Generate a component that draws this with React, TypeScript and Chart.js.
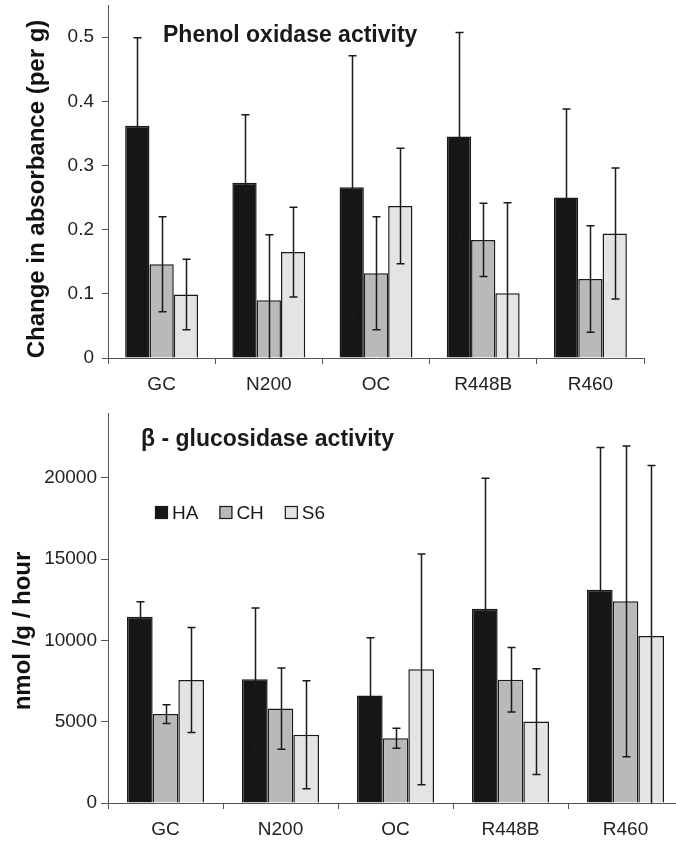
import React, { useEffect, useRef } from 'react';
import { Chart, registerables } from 'chart.js';

Chart.register(...registerables);

const categories = ['GC', 'N200', 'OC', 'R448B', 'R460'];
const seriesNames = ['HA', 'CH', 'S6'];
const seriesColors = ['#161616', '#b9b9b9', '#e4e4e4'];

const phenolHA = [0.362, 0.273, 0.266, 0.345, 0.25];
const phenolCH = [0.146, 0.09, 0.132, 0.184, 0.123];
const phenolS6 = [0.099, 0.165, 0.237, 0.101, 0.194];
const phenolErrHA = [0.137, 0.106, 0.205, 0.162, 0.138];
const phenolErrCH = [0.074, 0.102, 0.088, 0.057, 0.083];
const phenolErrS6 = [0.055, 0.07, 0.09, 0.141, 0.102];
const phenolTicks = [0, 0.1, 0.2, 0.3, 0.4, 0.5];

const glucHA = [11460, 7620, 6610, 11950, 13120];
const glucCH = [5470, 5810, 3990, 7590, 12410];
const glucS6 = [7570, 4200, 8230, 5010, 10280];
const glucErrHA = [920, 4380, 3560, 8030, 8750];
const glucErrCH = [570, 2500, 615, 1985, 9560];
const glucErrS6 = [3225, 3317, 7100, 3256, 10490];
const glucTicks = [0, 5000, 10000, 15000, 20000];

const FONT = "'Liberation Sans', Arial, Helvetica, sans-serif";
const INK = '#1a1a1a';

const errorBarPlugin = {
  id: 'errorBars',
  afterDatasetsDraw(chart: any) {
    const { ctx, chartArea } = chart;
    const y = chart.scales.y;
    ctx.save();
    ctx.beginPath();
    ctx.rect(chartArea.left, chartArea.top - 2, chartArea.right - chartArea.left, chartArea.bottom - chartArea.top + 2);
    ctx.clip();
    ctx.strokeStyle = INK;
    ctx.lineWidth = 1.5;
    chart.data.datasets.forEach((ds: any, di: number) => {
      const meta = chart.getDatasetMeta(di);
      meta.data.forEach((bar: any, i: number) => {
        const v = ds.data[i];
        const e = ds.errors[i];
        const x = Math.round(bar.x) + 0.5;
        const yHi = y.getPixelForValue(v + e);
        const lo = v - e;
        const yLo = y.getPixelForValue(Math.max(lo, 0));
        ctx.beginPath();
        ctx.moveTo(x, yHi);
        ctx.lineTo(x, yLo);
        ctx.moveTo(x - 4, yHi);
        ctx.lineTo(x + 4, yHi);
        if (lo > 0) {
          ctx.moveTo(x - 4, yLo);
          ctx.lineTo(x + 4, yLo);
        }
        ctx.stroke();
      });
    });
    ctx.restore();
  },
};

const labelPlugin = {
  id: 'innerLabels',
  afterDraw(chart: any) {
    const opts = chart.options.plugins.innerLabels;
    if (!opts) return;
    const { ctx } = chart;
    ctx.save();
    ctx.fillStyle = INK;
    ctx.textBaseline = 'alphabetic';
    ctx.textAlign = 'left';
    ctx.font = `bold 23px ${FONT}`;
    ctx.fillText(opts.title, opts.titleX, opts.titleY);
    if (opts.legend) {
      ctx.font = `19px ${FONT}`;
      let x = opts.legendX;
      chart.data.datasets.forEach((ds: any) => {
        ctx.fillStyle = ds.backgroundColor;
        ctx.fillRect(x, opts.legendY, 13, 13);
        ctx.strokeStyle = INK;
        ctx.lineWidth = 1.2;
        ctx.strokeRect(x + 0.5, opts.legendY + 0.5, 12, 12);
        ctx.fillStyle = INK;
        ctx.fillText(ds.label, x + 17, opts.legendY + 13);
        x += 17 + ctx.measureText(ds.label).width + 21;
      });
    }
    // rotated y-axis title
    ctx.save();
    ctx.translate(opts.yTitleX, opts.yTitleY);
    ctx.rotate(-Math.PI / 2);
    ctx.textAlign = 'center';
    ctx.textBaseline = 'middle';
    ctx.fillStyle = '#111';
    ctx.font = `bold 24px ${FONT}`;
    ctx.fillText(opts.yTitle, 0, 0);
    ctx.restore();
    ctx.restore();
  },
};

function makeConfig(p: any) {
  const values = p.values;
  const errors = p.errors;
  return {
    type: 'bar',
    data: {
      labels: categories,
      datasets: seriesNames.map((name, k) => ({
        label: name,
        data: values[k],
        errors: errors[k],
        backgroundColor: seriesColors[k],
        borderColor: INK,
        borderWidth: 1.5,
        barPercentage: 1,
        categoryPercentage: p.catPct,
      })),
    },
    options: {
      responsive: false,
      animation: false,
      layout: { padding: p.padding },
      plugins: {
        legend: { display: false },
        tooltip: { enabled: false },
        innerLabels: p.labels,
      },
      scales: {
        x: {
          grid: { display: true, drawOnChartArea: false, drawTicks: true, tickLength: 6, color: '#555', offset: true },
          border: { color: '#555', width: 1 },
          ticks: { color: '#222', font: { family: FONT, size: 19 }, padding: 9, maxRotation: 0 },
          afterFit: (s: any) => {
            s.height = p.xHeight;
            s.paddingLeft = 0;
            s.paddingRight = 0;
          },
        },
        y: {
          min: 0,
          max: p.max,
          afterBuildTicks: (s: any) => {
            s.ticks = p.ticks.map((v: number) => ({ value: v }));
          },
          grid: { display: true, drawOnChartArea: false, drawTicks: true, tickLength: p.tickLen, color: '#555' },
          border: { color: '#555', width: 1 },
          ticks: {
            color: '#222',
            font: { family: FONT, size: 19 },
            padding: p.tickPad,
            callback: (v: any) => String(v),
          },
          afterFit: (s: any) => {
            s.width = 108;
            s.paddingTop = 0;
            s.paddingBottom = 0;
          },
        },
      },
    },
    plugins: [errorBarPlugin, labelPlugin],
  };
}

export default function App() {
  const topRef = useRef<HTMLCanvasElement>(null);
  const botRef = useRef<HTMLCanvasElement>(null);

  useEffect(() => {
    const top = new Chart(
      topRef.current as HTMLCanvasElement,
      makeConfig({
        values: [phenolHA, phenolCH, phenolS6],
        errors: [phenolErrHA, phenolErrCH, phenolErrS6],
        catPct: 0.68,
        padding: { left: 0, right: 32, top: 5, bottom: 0 },
        xHeight: 42,
        max: 0.55,
        ticks: phenolTicks,
        tickLen: 6,
        tickPad: 8,
        labels: {
          title: 'Phenol oxidase activity', titleX: 163, titleY: 42,
          yTitle: 'Change in absorbance (per g)', yTitleX: 37, yTitleY: 189,
        },
      }) as any
    );
    const bot = new Chart(
      botRef.current as HTMLCanvasElement,
      makeConfig({
        values: [glucHA, glucCH, glucS6],
        errors: [glucErrHA, glucErrCH, glucErrS6],
        catPct: 0.67,
        padding: { left: 0, right: 7, top: 13, bottom: 0 },
        xHeight: 39,
        max: 24000,
        ticks: glucTicks,
        tickLen: 7,
        tickPad: 4,
        labels: {
          title: 'β - glucosidase activity', titleX: 141, titleY: 46,
          legend: true, legendX: 155, legendY: 106,
          yTitle: 'nmol /g / hour', yTitleX: 23, yTitleY: 231,
        },
      }) as any
    );
    return () => {
      top.destroy();
      bot.destroy();
    };
  }, []);

  return (
    <div style={{ position: 'fixed', left: 0, top: 0, width: 676, height: 842, overflow: 'hidden', background: '#fff' }}>
      <canvas ref={topRef} width={676} height={400} style={{ position: 'absolute', left: 0, top: 0, width: 676, height: 400 }} />
      <canvas ref={botRef} width={690} height={442} style={{ position: 'absolute', left: 0, top: 400, width: 690, height: 442 }} />
    </div>
  );
}
